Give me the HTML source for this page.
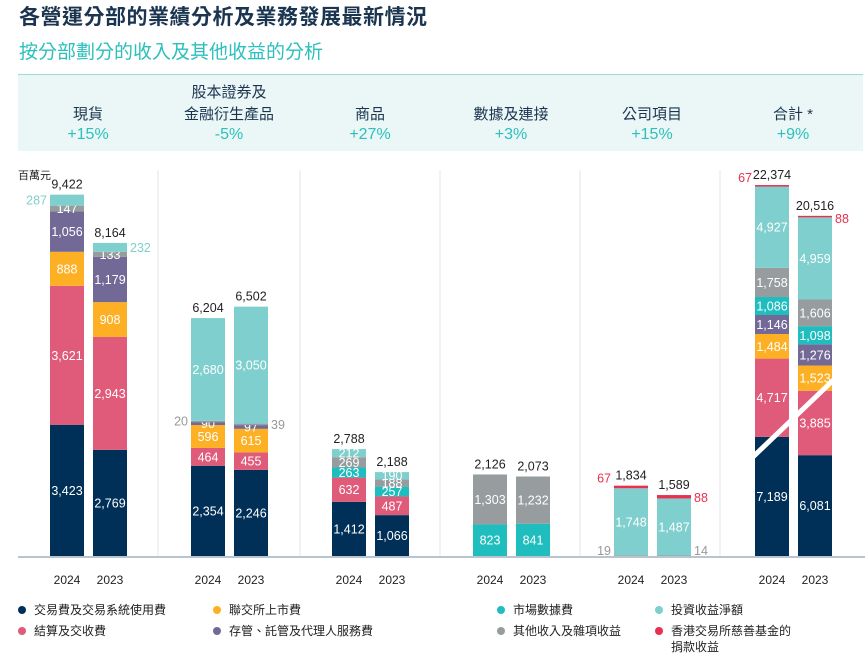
<!DOCTYPE html>
<html><head><meta charset="utf-8">
<style>
body{margin:0;width:865px;height:656px;background:#fff;overflow:hidden;font-family:"Liberation Sans","Noto Sans CJK TC",sans-serif;}
#wrap{position:relative;width:865px;height:656px;}
.t{position:absolute;white-space:nowrap;}
</style></head><body><div id="wrap">
<div class="t" style="left:19px;top:1px;font-size:21px;font-weight:bold;color:#1b3550;letter-spacing:0.5px;">各營運分部的業績分析及業務發展最新情況</div>
<div class="t" style="left:19px;top:37px;font-size:19px;color:#2cc0bc;">按分部劃分的收入及其他收益的分析</div>
<div style="position:absolute;left:18px;top:74px;width:845px;height:76px;background:#ebf6f6;border-top:1px solid #9fdad8;"></div>
<svg id="chart" width="865" height="656" style="position:absolute;left:0;top:0;"></svg>
</div>
<script>
const segments=["現貨","股本證券及\n金融衍生產品","商品","數據及連接","公司項目","合計 *"];
const changes=["+15%","-5%","+27%","+3%","+15%","+9%"];
const years=["2024","2023"];
const seriesNames=["交易費及交易系統使用費","結算及交收費","聯交所上市費","存管、託管及代理人服務費","市場數據費","其他收入及雜項收益","投資收益淨額","香港交易所慈善基金的捐款收益"];
const colors=["#003057","#e05a7a","#fdb023","#736996","#20bdbe","#979c9e","#7ecfcd","#e8304f"];
const trading=[[3423,2769],[2354,2246],[1412,1066],[0,0],[0,0],[7189,6081]];
const clearing=[[3621,2943],[464,455],[632,487],[0,0],[0,0],[4717,3885]];
const listing=[[888,908],[596,615],[0,0],[0,0],[0,0],[1484,1523]];
const custody=[[1056,1179],[90,97],[0,0],[0,0],[0,0],[1146,1276]];
const marketData=[[0,0],[0,0],[263,257],[823,841],[0,0],[1086,1098]];
const other=[[147,133],[20,39],[269,188],[1303,1232],[19,14],[1758,1606]];
const investment=[[287,232],[2680,3050],[212,190],[0,0],[1748,1487],[4927,4959]];
const donation=[[0,0],[0,0],[0,0],[0,0],[67,88],[67,88]];
const totals=[[9422,8164],[6204,6502],[2788,2188],[2126,2073],[1834,1589],[22374,20516]];

const svg=document.getElementById('chart');
const NS="http://www.w3.org/2000/svg";
const base=556;
function yScale(v,seg){return seg===5? v*0.01658 : v*0.03835;}
function groupX(i){return 50+i*141;}
function barX(i,j){return groupX(i)+j*43;}
function el(tag,attrs,parent){const e=document.createElementNS(NS,tag);for(const k in attrs)e.setAttribute(k,attrs[k]);(parent||svg).appendChild(e);return e;}
function txt(x,y,s,fill,size,anchor,parent){const e=el('text',{x:x,y:y,fill:fill,'font-size':size,'text-anchor':anchor||'middle','font-family':'"Liberation Sans","Noto Sans CJK TC",sans-serif'},parent);e.textContent=s;return e;}
const all=[trading,clearing,listing,custody,marketData,other,investment,donation];
[158,300,440,580,720].forEach(x=>{
  const d=el('line',{x1:x,y1:170,x2:x,y2:556,stroke:'#e4e6e8','stroke-width':1});
  
  
});
segments.forEach((s,i)=>{
  const cx=groupX(i)+38;
  const lines=s.split("\n");
  lines.forEach((l,k)=>{const t=txt(cx,119-(lines.length-1-k)*22,l,'#1b3550',15);
    
    });
  const c=txt(cx,139,changes[i],'#2cc0bc',16);
  
  
});
const unit=txt(18,179,'百萬元','#222',11,'start');


for(let i=0;i<6;i++){for(let j=0;j<2;j++){
  const x=barX(i,j),w=34;let cum=0;
  all.forEach((ser,s)=>{
    const v=ser[i][j];if(!v)return;
    const y0=base-yScale(cum,i),h=yScale(v,i);cum+=v;
    const r=el('rect',{x:x,y:y0-h,width:w,height:Math.max(h,1.5),fill:colors[s]});
    
    
    let lx=x+w/2,anchor='middle',col='#fff',ly=y0-h/2+4.5;
    const outX=j===0?x-3:x+w+3, outA=j===0?'end':'start';
    if(i===0&&s===6){col='#7ecfcd';lx=outX;anchor=outA;}
    if(i===1&&s===5){col='#999';lx=outX;anchor=outA;}
    if(i===4&&s===5){col='#999';lx=outX;anchor=outA;ly=y0-1;}
    if(s===7){col='#e8304f';lx=outX;anchor=outA;ly=y0-h+(j===0?-3:7);}
    const t=txt(lx,ly,v.toLocaleString('en-US'),col,12.5,anchor);
    
    
  });
  const tt=txt(x+w/2,base-yScale(totals[i][j],i)-6,totals[i][j].toLocaleString('en-US'),'#222',12.5);
  
  
  const yl=txt(x+w/2,584,years[j],'#222',12);
  
  
}}
const br=el('line',{x1:barX(5,0)-4,y1:base-yScale(7189,5)+22,x2:barX(5,1)+38,y2:base-yScale(6081+3885+1523,5)+12,stroke:'#fff','stroke-width':5});


const ax=el('line',{x1:18,y1:base+1,x2:865,y2:base+1,stroke:'#b8c4d0','stroke-width':2});


const lx=[18,213,497,655];
seriesNames.forEach((n,k)=>{
  const col=Math.floor(k/2),row=k%2;
  const x=lx[col],y=610+row*21;
  const g=el('g',{});
  
  
  el('circle',{cx:x+4,cy:y,r:4,fill:colors[k]},g);
  if(k===7){txt(x+16,y+4,'香港交易所慈善基金的','#222',12,'start',g);txt(x+16,y+20,'捐款收益','#222',12,'start',g);}
  else txt(x+16,y+4,n,'#222',12,'start',g);
});
</script>
</body></html>
